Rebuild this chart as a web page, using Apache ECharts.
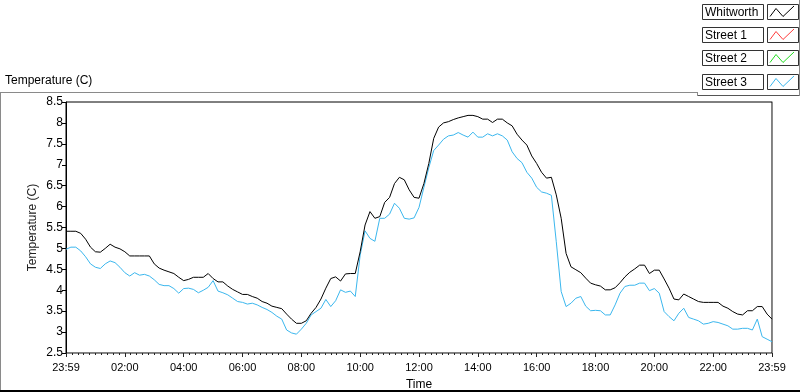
<!DOCTYPE html>
<html>
<head>
<meta charset="utf-8">
<script src="https://cdn.jsdelivr.net/npm/echarts@6/dist/echarts.min.js"></script>
<style>
  html, body { margin: 0; padding: 0; background: #fff; }
  #chart { width: 800px; height: 392px; }
</style>
</head>
<body>
<div id="chart"></div>
<script>
// samples every 10 minutes, from 23:59 (0) to 23:59 (1440)
var sampleStep = 10;
var seriesNames = ['Whitworth', 'Street 1', 'Street 2', 'Street 3'];
var seriesColors = ['#000000', '#ff3c3c', '#22dd22', '#3bb7ee'];
var tickHours = ['23:59', '02:00', '04:00', '06:00', '08:00', '10:00', '12:00',
                 '14:00', '16:00', '18:00', '20:00', '22:00', '23:59'];

var whitworth = [
  5.41, 5.41, 5.41, 5.36, 5.22, 5.03, 4.92, 4.91, 5.00, 5.10,
  5.03, 4.99, 4.92, 4.82, 4.82, 4.82, 4.82, 4.82, 4.63, 4.53,
  4.48, 4.44, 4.40, 4.31, 4.23, 4.26, 4.31, 4.31, 4.31, 4.40,
  4.28, 4.20, 4.20, 4.10, 4.02, 3.96, 3.90, 3.90, 3.85, 3.81,
  3.73, 3.69, 3.62, 3.59, 3.56, 3.43, 3.31, 3.21, 3.21, 3.27,
  3.45, 3.59, 3.79, 4.05, 4.28, 4.32, 4.22,
  4.39, 4.40, 4.40, 4.92, 5.56, 5.88, 5.72, 5.76, 6.10, 6.22,
  6.55, 6.70, 6.64, 6.40, 6.22, 6.20, 6.55, 7.03, 7.63, 7.90,
  8.00, 8.03, 8.08, 8.12, 8.15, 8.18, 8.18, 8.15, 8.09, 8.09,
  8.01, 8.09, 8.09, 8.00, 7.93, 7.73, 7.59, 7.47, 7.21, 7.03,
  6.82, 6.68, 6.70, 6.28, 5.72, 4.88, 4.56, 4.49, 4.42, 4.29,
  4.17, 4.13, 4.10, 4.01, 4.01, 4.06, 4.18, 4.32,
  4.43, 4.51, 4.60, 4.60, 4.40, 4.48, 4.48, 4.27, 4.05, 3.79,
  3.77, 3.91, 3.85, 3.79, 3.73, 3.71, 3.71, 3.71, 3.71, 3.62,
  3.57, 3.49, 3.43, 3.41, 3.51, 3.51, 3.61, 3.61, 3.43, 3.31
];
var street1 = [];
var street2 = [];
var street3 = [
  4.98, 5.03, 5.03, 4.94, 4.80, 4.63, 4.55, 4.52, 4.63, 4.70,
  4.66, 4.55, 4.42, 4.34, 4.42, 4.36, 4.38, 4.34, 4.25, 4.14,
  4.11, 4.11, 4.04, 3.93, 4.04, 4.05, 4.02, 3.94, 4.00, 4.07,
  4.23, 3.98, 3.94, 3.89, 3.81, 3.73, 3.71, 3.67, 3.69, 3.65,
  3.59, 3.54, 3.47, 3.38, 3.31, 3.05, 2.98, 2.95, 3.07, 3.21,
  3.41, 3.49, 3.57, 3.78, 3.61, 3.75, 4.01,
  3.95, 3.98, 3.85, 4.84, 5.42, 5.24, 5.17, 5.72, 5.72, 5.82,
  6.08, 5.96, 5.72, 5.70, 5.73, 5.98, 6.46, 6.93, 7.34, 7.47,
  7.61, 7.69, 7.71, 7.77, 7.71, 7.66, 7.78, 7.66, 7.66, 7.74,
  7.69, 7.74, 7.69, 7.59, 7.31, 7.15, 7.05, 6.82, 6.68, 6.46,
  6.35, 6.32, 6.27, 5.16, 3.97, 3.61, 3.69, 3.81, 3.85, 3.62,
  3.51, 3.52, 3.51, 3.41, 3.41, 3.65, 3.93, 4.09,
  4.12, 4.12, 4.17, 4.17, 3.99, 4.04, 3.93, 3.49, 3.37, 3.27,
  3.45, 3.57, 3.35, 3.31, 3.27, 3.19, 3.21, 3.25, 3.23, 3.19,
  3.15, 3.07, 3.07, 3.09, 3.09, 3.05, 3.31, 2.89, 2.83, 2.77
];

var allValues = [whitworth, street1, street2, street3];

function toPairs(arr) {
  return arr.map(function (v, i) { return [i * sampleStep, v]; });
}

var fontName = 'Liberation Sans';
var chart = echarts.init(document.getElementById('chart'), null, { renderer: 'canvas' });

// LabVIEW style legend: name box + swatch box
var legendGraphics = [];
seriesNames.forEach(function (name, i) {
  var y0 = 4.5 + Math.round(i * 23.2);
  legendGraphics.push({
    type: 'rect', shape: { x: 702.5, y: y0, width: 61, height: 15 },
    style: { fill: '#fff', stroke: '#333', lineWidth: 1 }, z: 10
  });
  legendGraphics.push({
    type: 'text', x: 705, y: y0 + 8,
    style: { text: name, fill: '#000', font: '12px ' + fontName, textVerticalAlign: 'middle' }, z: 11
  });
  legendGraphics.push({
    type: 'rect', shape: { x: 767.5, y: y0, width: 31, height: 15 },
    style: { fill: '#fff', stroke: '#333', lineWidth: 1 }, z: 10
  });
  legendGraphics.push({
    type: 'polyline',
    shape: { points: [[770, y0 + 12], [776, y0 + 4], [783, y0 + 12], [794, y0 + 1.5]] },
    style: { stroke: seriesColors[i], lineWidth: 1, fill: null }, z: 11
  });
});

var frameGraphics = [
  { type: 'line', shape: { x1: 0, y1: 92.5, x2: 698, y2: 92.5 }, style: { stroke: '#8a8a8a', lineWidth: 1 } },
  { type: 'line', shape: { x1: 697.5, y1: 92.5, x2: 697.5, y2: 95.5 }, style: { stroke: '#8a8a8a', lineWidth: 1 } },
  { type: 'line', shape: { x1: 697.5, y1: 95.5, x2: 799, y2: 95.5 }, style: { stroke: '#555', lineWidth: 1 } },
  { type: 'line', shape: { x1: 799.5, y1: 0, x2: 799.5, y2: 96 }, style: { stroke: '#8a8a8a', lineWidth: 1 } },
  { type: 'line', shape: { x1: 0.5, y1: 92.5, x2: 0.5, y2: 392 }, style: { stroke: '#8a8a8a', lineWidth: 1 } },
  { type: 'line', shape: { x1: 0, y1: 391, x2: 800, y2: 391 }, style: { stroke: '#000', lineWidth: 2 } },
  { type: 'text', x: 5, y: 81, style: { text: 'Temperature (C)', fill: '#000', font: '12px ' + fontName, textVerticalAlign: 'middle' } }
];

var option = {
  animation: false,
  backgroundColor: '#fff',
  textStyle: { fontFamily: fontName },
  grid: {
    left: 66, right: 28, top: 102, bottom: 39,
    show: true, borderColor: '#000', borderWidth: 1, backgroundColor: '#fff',
    containLabel: false, outerBoundsMode: 'none'
  },
  xAxis: {
    type: 'value', min: 0, max: 1440, interval: 120,
    name: 'Time', nameLocation: 'middle', nameGap: 26,
    nameTextStyle: { color: '#000', fontSize: 12, fontFamily: fontName },
    axisLine: { show: true, lineStyle: { color: '#8a8a8a', width: 1 } },
    axisTick: { show: true, length: 4, lineStyle: { color: '#222' } },
    minorTick: { show: true, splitNumber: 10, length: 2, lineStyle: { color: '#222' } },
    axisLabel: {
      color: '#000', fontSize: 11, fontFamily: fontName, margin: 9,
      showMinLabel: true, showMaxLabel: true,
      formatter: function (v) { return tickHours[Math.round(v / 120)]; }
    },
    splitLine: { show: false }
  },
  yAxis: [{
    type: 'value', min: 2.5, max: 8.5, interval: 0.5,
    name: 'Temperature (C)', nameLocation: 'middle', nameGap: 27, nameRotate: 90,
    nameMoveOverlap: false,
    nameTextStyle: { color: '#222', fontSize: 12, fontFamily: fontName },
    axisLine: { show: true, lineStyle: { color: '#000', width: 1 } },
    axisTick: { show: true, length: 4, lineStyle: { color: '#000' } },
    axisLabel: { color: '#000', fontSize: 12, fontFamily: fontName, margin: 3 },
    splitLine: { show: false }
  }, {
    type: 'value', min: 2.5, max: 8.5, interval: 0.5, position: 'right',
    axisLine: { show: true, lineStyle: { color: '#8a8a8a', width: 1 } },
    axisTick: { show: false }, axisLabel: { show: false }, splitLine: { show: false }
  }],
  graphic: frameGraphics.concat(legendGraphics),
  series: seriesNames.map(function (name, i) {
    return {
      name: name, type: 'line', yAxisIndex: 0,
      data: toPairs(allValues[i]),
      showSymbol: false, symbol: 'none',
      lineStyle: { color: seriesColors[i], width: 1 },
      itemStyle: { color: seriesColors[i] },
      z: i === 0 ? 3 : 2
    };
  })
};

chart.setOption(option);
</script>
</body>
</html>
